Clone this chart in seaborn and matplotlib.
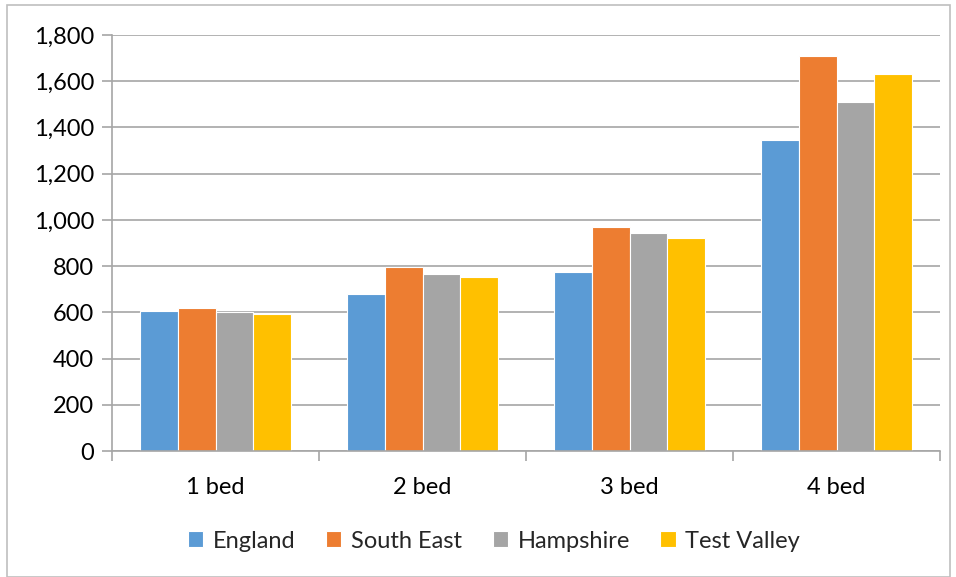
import matplotlib
matplotlib.use("Agg")
import matplotlib.pyplot as plt
import seaborn as sns
import pandas as pd
import numpy as np
from matplotlib.ticker import FuncFormatter, FixedLocator
from matplotlib.patches import Rectangle

categories = ["1 bed", "2 bed", "3 bed", "4 bed"]
series = ["England", "South East", "Hampshire", "Test Valley"]
england = [606, 679, 774, 1347]
south_east = [619, 796, 970, 1710]
hampshire = [602, 765, 942, 1510]
test_valley = [591, 751, 923, 1632]
colors = ["#5b9bd5", "#ed7d31", "#a5a5a5", "#ffc000"]

rows = []
for name, vals in zip(series, [england, south_east, hampshire, test_valley]):
    for c, v in zip(categories, vals):
        rows.append({"cat": c, "series": name, "value": v})
df = pd.DataFrame(rows)

sns.set_theme(style="white")
plt.rcParams["font.family"] = ["Lato", "DejaVu Sans"]

FS = 17

fig = plt.figure(figsize=(9.56, 5.77), dpi=100)
ax = fig.add_axes([112/956, 1-451/577, (940-112)/956, (451-35)/577])

sns.barplot(data=df, x="cat", y="value", hue="series", order=categories,
            hue_order=series, palette=colors, width=0.73, saturation=1,
            edgecolor="white", linewidth=0.8, ax=ax, legend=True)

ax.set_ylim(0, 1800)
ax.set_xlim(-0.5, 3.5)
ax.set_yticks(np.arange(0, 1801, 200))
ax.yaxis.set_major_formatter(FuncFormatter(lambda v, p: f"{int(v):,}"))
ax.grid(axis="y", color="#a6a6a6", linewidth=1.2)
ax.set_axisbelow(True)
ax.set_xlabel("")
ax.set_ylabel("")
for s in ["top", "right"]:
    ax.spines[s].set_visible(False)
for s in ["left", "bottom"]:
    ax.spines[s].set_color("#a6a6a6")
    ax.spines[s].set_linewidth(1.2)
ax.tick_params(axis="y", which="major", length=7, color="#a6a6a6", width=1.2,
               labelsize=FS, labelcolor="black", pad=6, left=True)
ax.tick_params(axis="x", which="major", length=0, labelsize=FS,
               labelcolor="black", pad=19)
ax.xaxis.set_minor_locator(FixedLocator([-0.5, 0.5, 1.5, 2.5, 3.5]))
ax.tick_params(axis="x", which="minor", length=7, color="#a6a6a6", width=1.2,
               bottom=True)

handles, labels = ax.get_legend_handles_labels()
ax.legend_.remove()
fig.legend(handles, labels, loc="center", bbox_to_anchor=(494/956, 1-541/577),
           ncol=4, frameon=False, fontsize=FS, handlelength=0.65,
           handleheight=0.65, handletextpad=0.4, columnspacing=1.3)

fig.patches.append(Rectangle((7/956, 0), 943/956, 1-5/577, transform=fig.transFigure,
                             fill=False, edgecolor="#bfbfbf", linewidth=1.2))

fig.savefig("out.png", dpi=100)
